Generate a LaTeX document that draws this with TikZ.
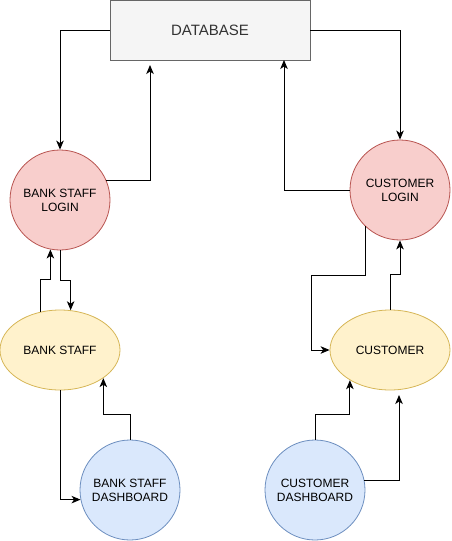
\documentclass[tikz,border=0pt]{standalone}
\usepackage{fontspec}
\setmainfont{Liberation Sans}
\usetikzlibrary{arrows.meta,shapes.geometric,calc}
\definecolor{dbfill}{HTML}{F5F5F5}
\definecolor{dbline}{HTML}{666666}
\definecolor{dbtext}{HTML}{333333}
\definecolor{redfill}{HTML}{F8CECC}
\definecolor{redline}{HTML}{B85450}
\definecolor{yelfill}{HTML}{FFF2CC}
\definecolor{yelline}{HTML}{D6B656}
\definecolor{bluefill}{HTML}{DAE8FC}
\definecolor{blueline}{HTML}{6C8EBF}
\begin{document}
\begin{tikzpicture}[x=1pt,y=-1pt,
  base/.style={inner sep=0pt, align=center, font=\fontsize{12}{14}\selectfont, line width=0.8pt},
  dbbox/.style={base, rectangle, draw=dbline, fill=dbfill, text=dbtext, minimum width=200pt, minimum height=60pt, font=\fontsize{15}{18}\selectfont},
  login/.style={base, circle, draw=redline, fill=redfill, minimum size=100pt},
  role/.style={base, ellipse, draw=yelline, fill=yelfill, minimum width=120pt, minimum height=80pt},
  dashnode/.style={base, circle, draw=blueline, fill=bluefill, minimum size=100pt},
  arr/.style={draw=black, line width=0.9pt, -{Stealth[length=9pt,width=7.5pt,inset=2.5pt]}}
]
\useasboundingbox (0,0) rectangle (451,541);
\node[dbbox] (db) at (210,30) {DATABASE};
\node[login] (bsl) at (60,200) {BANK STAFF\\LOGIN};
\node[login] (cl) at (400,190) {CUSTOMER\\LOGIN};
\node[role] (bs) at (60,350) {BANK STAFF};
\node[role] (c) at (390,350) {CUSTOMER};
\node[dashnode] (bsd) at (130,490) {BANK STAFF\\DASHBOARD};
\node[dashnode] (cd) at (315,490) {CUSTOMER\\DASHBOARD};
\coordinate (p1) at (150,65);
\coordinate (p2) at (284,60);
\coordinate (p3) at (399,395);
\coordinate (b1) at (311,275);
% database <-> logins
\draw[arr] (db.west) -| (bsl.north);
\draw[arr] (bsl.23.6) -| (p1);
\draw[arr] (db.east) -| (cl.north);
\draw[arr] (cl.west) -| (p2);
% bank staff side
\draw[arr] (bs.117.9) -- ++(0,-32.3) -| (bsl.-101.5);
\draw[arr] (bsl.south) -- ++(0,30) -| (bs.75.8);
\draw[arr] (bs.south) |- (bsd.191.5);
\draw[arr] (bsd.north) -- ++(0,-25) -| (bs.-33);
% customer side
\draw[arr] (cl.-134.4) |- (b1) |- (c.west);
\draw[arr] (c.north) -- ++(0,-35) -| (cl.south);
\draw[arr] (cd.north) -- ++(0,-25) -| (c.-143.3);
\draw[arr] (cd.11.5) -| (p3);
\end{tikzpicture}
\end{document}
